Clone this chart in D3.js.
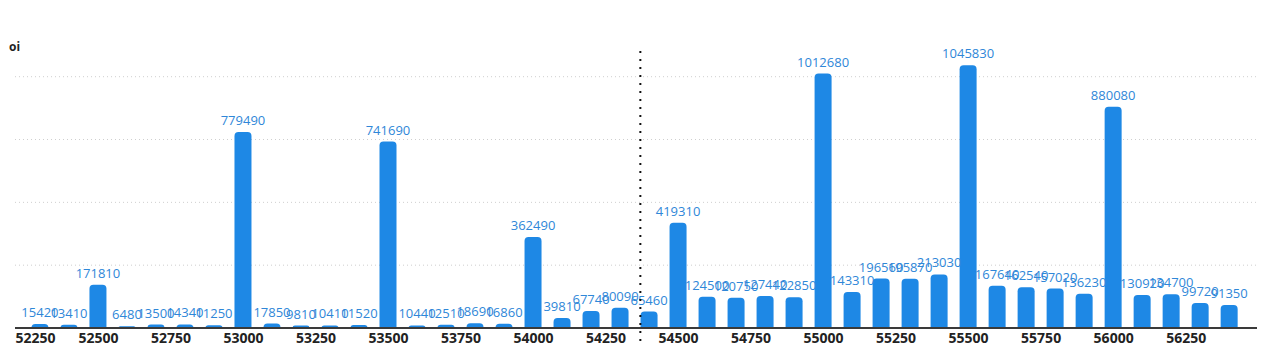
<!DOCTYPE html>
<html>
<head>
<meta charset="utf-8">
<script src="https://cdn.jsdelivr.net/npm/d3@7/dist/d3.min.js"></script>
<style>
  html, body { margin: 0; padding: 0; background: #ffffff; }
  svg { display: block; }
</style>
</head>
<body>
<svg id="chart" width="1265" height="351"></svg>
<script>
// ---- data ----
const strikes = [52300, 52400, 52500, 52600, 52700, 52800, 52900, 53000, 53100, 53200,
                 53300, 53400, 53500, 53600, 53700, 53800, 53900, 54000, 54100, 54200,
                 54300, 54400, 54500, 54600, 54700, 54800, 54900, 55000, 55100, 55200,
                 55300, 55400, 55500, 55600, 55700, 55800, 55900, 56000, 56100, 56200,
                 56300, 56400];
const oi = [15420, 13410, 171810, 6480, 13500, 14340, 11250, 779490, 17850, 9810,
            10410, 11520, 741690, 10440, 12510, 18690, 16860, 362490, 39810, 67740,
            80090, 65460, 419310, 124500, 120750, 127440, 122850, 1012680, 143310, 196560,
            195870, 213030, 1045830, 167640, 162540, 157020, 136230, 880080, 130920, 134700,
            99720, 91350];
const xTicks = [52250, 52500, 52750, 53000, 53250, 53500, 53750, 54000, 54250,
                54500, 54750, 55000, 55250, 55500, 55750, 56000, 56250];
const yGrid = [250000, 500000, 750000, 1000000];
const spot = 54370;
const seriesName = "oi";

// ---- layout ----
const svg = d3.select("#chart");
const left = 15, right = 1257, base = 328;
const x = d3.scaleLinear().domain([52214, 56496]).range([left, right]);
const y = d3.scaleLinear().domain([0, 1000000]).range([base, 76.7]);
const barW = 17, r = 4;
const barColor = "#1e88e5";
const font = "'Open Sans', 'Noto Sans', sans-serif";

// grid lines
svg.append("g").selectAll("line").data(yGrid).join("line")
  .attr("x1", left).attr("x2", right)
  .attr("y1", d => y(d)).attr("y2", d => y(d))
  .attr("stroke", "#cfcfcf").attr("stroke-width", 1)
  .attr("stroke-dasharray", "1,3");

// title
svg.append("text").attr("x", 9).attr("y", 51)
  .attr("font-family", font).attr("font-size", 12).attr("font-weight", 700)
  .attr("fill", "#222").text(seriesName);

// bars
function barPath(cx, top) {
  const x0 = cx - barW / 2, x1 = cx + barW / 2;
  const h = base - top;
  const rr = Math.min(r, h);
  return `M${x0},${base} L${x0},${top + rr} Q${x0},${top} ${x0 + rr},${top} L${x1 - rr},${top} Q${x1},${top} ${x1},${top + rr} L${x1},${base} Z`;
}
svg.append("g").selectAll("path").data(strikes).join("path")
  .attr("d", (d, i) => barPath(x(d), y(oi[i])))
  .attr("fill", barColor);

// axis
const axis = d3.axisBottom(x).tickValues(xTicks).tickSize(0).tickPadding(6)
  .tickFormat(d => String(d));
const gx = svg.append("g").attr("transform", `translate(0,${base})`).call(axis);
gx.select(".domain").remove();
gx.selectAll("text")
  .attr("font-family", font).attr("font-size", 14).attr("font-weight", 700)
  .attr("fill", "#222").attr("dy", "0").attr("y", 15);
// keep first label inside the plot
gx.selectAll(".tick").filter(d => d === xTicks[0]).select("text")
  .attr("text-anchor", "start").attr("x", left - x(xTicks[0]));

svg.append("line").attr("x1", left).attr("x2", right)
  .attr("y1", base).attr("y2", base)
  .attr("stroke", "#3a3a3a").attr("stroke-width", 2);

// value labels
svg.append("g").selectAll("text").data(strikes).join("text")
  .attr("x", d => x(d)).attr("y", (d, i) => y(oi[i]) - 7)
  .attr("text-anchor", "middle")
  .attr("font-family", font).attr("font-size", 13)
  .attr("fill", "#2f87d8")
  .text((d, i) => oi[i]);

// spot dotted line
svg.append("line").attr("x1", x(spot)).attr("x2", x(spot))
  .attr("y1", 51).attr("y2", 345)
  .attr("stroke", "#111").attr("stroke-width", 2)
  .attr("stroke-dasharray", "2,6");
</script>
</body>
</html>
